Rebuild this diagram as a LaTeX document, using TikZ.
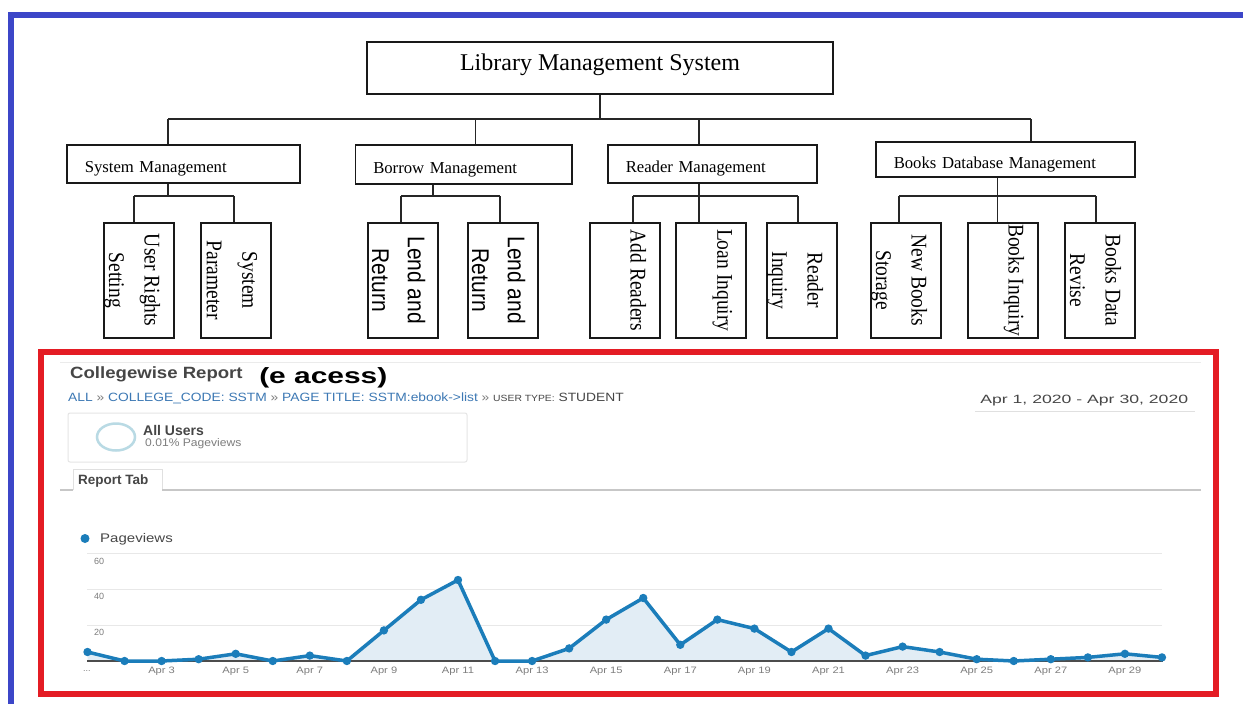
\documentclass[tikz,border=0pt]{standalone}
\usepackage{fontspec}
\setmainfont{Liberation Serif}
\setsansfont{Liberation Sans}

\definecolor{frameblue}{RGB}{60,70,200}
\definecolor{framered}{RGB}{228,28,36}
\definecolor{crumb}{RGB}{60,120,180}
\definecolor{gaBlue}{RGB}{27,125,186}
\definecolor{gaFill}{RGB}{226,237,245}
\definecolor{gaText}{RGB}{70,70,70}
\definecolor{gaSoft}{RGB}{125,125,125}
\definecolor{ringblue}{RGB}{185,218,228}

\begin{document}
\begin{tikzpicture}[x=1pt,y=-1pt,
  treebox/.style={draw=black!90, line width=1.5pt, inner sep=0pt},
  link/.style={draw=black!85, line width=1.4pt},
  rootbox/.style={treebox, minimum width=466pt, minimum height=52pt,
    font=\fontsize{24}{28}\selectfont, text height=16.5pt, text depth=12.5pt},
  midbox/.style={treebox, anchor=north west, align=left, inner xsep=18pt,
    font=\fontsize{16.7}{20}\selectfont, text height=18pt, text depth=0pt},
  leafbox/.style={treebox, anchor=north west, minimum width=70pt, minimum height=115pt},
  leaftext/.style={rotate=-90, yscale=1.15, anchor=north, align=center, inner sep=0pt,
    font=\fontsize{19.5}{31}\selectfont},
  leafsans/.style={leaftext, font=\sffamily\fontsize{21}{31}\selectfont},
  gatext/.style={anchor=base west, inner sep=0pt, font=\sffamily},
  axislab/.style={anchor=base, inner sep=0pt, text=gaSoft,
    font=\sffamily\fontsize{9.3}{11}\selectfont, xscale=1.2},
]
\useasboundingbox (0,0) rectangle (1243,704);
\fill[white] (0,0) rectangle (1243,704);

% outer frame
\draw[frameblue, line width=6pt] (11,710) -- (11,14.5) -- (1250,14.5);

% ---------------- tree ----------------
\node[rootbox] (root) at (600,68) {Library Management System};

\node[midbox, text width=197pt, minimum height=38pt]   (sys) at (66,144)    {System Management};
\node[midbox, text width=180.5pt, minimum height=39pt] (bor) at (354.5,144) {Borrow Management};
\node[midbox, text width=173.4pt, minimum height=38pt] (rea) at (607,144)   {Reader Management};
\node[midbox, text width=223pt, minimum height=35pt]   (bdm) at (875,141)   {Books Database Management};

\node[leafbox] (urs) at (103,222) {};
\node[leafbox] (spm) at (200,222) {};
\node[leafbox] (lr1) at (367,222) {};
\node[leafbox] (lr2) at (467,222) {};
\node[leafbox] (adr) at (589,222) {};
\node[leafbox] (lni) at (675,222) {};
\node[leafbox] (rdi) at (766,222) {};
\node[leafbox] (nbs) at (870,222) {};
\node[leafbox] (bki) at (967,222) {};
\node[leafbox] (bdr) at (1064,222) {};

\node[leaftext] (urs-t) at ([xshift=-14pt]urs.east) {User Rights\\Setting};
\node[leaftext] (spm-t) at ([xshift=-14pt]spm.east) {System\\Parameter};
\node[leafsans] (lr1-t) at ([xshift=-13pt]lr1.east) {Lend and\\Return};
\node[leafsans] (lr2-t) at ([xshift=-13pt]lr2.east) {Lend and\\Return};
\node[leaftext] (adr-t) at ([xshift=-14pt]adr.east) {Add Readers};
\node[leaftext] (lni-t) at ([xshift=-14pt]lni.east) {Loan Inquiry};
\node[leaftext] (rdi-t) at ([xshift=-14pt]rdi.east) {Reader\\Inquiry};
\node[leaftext] (nbs-t) at ([xshift=-14pt]nbs.east) {New Books\\Storage};
\node[leaftext] (bki-t) at ([xshift=-14pt]bki.east) {Books Inquiry};
\node[leaftext] (bdr-t) at ([xshift=-14pt]bdr.east) {Books Data\\Revise};

% top level bus
\coordinate (t0) at (600,119);
\coordinate (t1) at (168,119);
\coordinate (t2) at (475.5,119);
\coordinate (t3) at (699,119);
\coordinate (t4) at (1031,119);
\draw[link] (root.south) -- (t0);
\draw[link] (t1) -- (t4);
\draw[link] (t1) -- (t1 |- sys.north);
\draw[link] (t2) -- (t2 |- bor.north);
\draw[link] (t3) -- (t3 |- rea.north);
\draw[link] (t4) -- (t4 |- bdm.north);

% System Management branch
\coordinate (s0) at (168,196);
\coordinate (s1) at (134,196);
\coordinate (s2) at (234,196);
\draw[link] (s0 |- sys.south) -- (s0);
\draw[link] (s1) -- (s2);
\draw[link] (s1) -- (s1 |- urs.north);
\draw[link] (s2) -- (s2 |- spm.north);

% Borrow Management branch
\coordinate (b0) at (433,196);
\coordinate (b1) at (401,196);
\coordinate (b2) at (500,196);
\draw[link] (b0 |- bor.south) -- (b0);
\draw[link] (b1) -- (b2);
\draw[link] (b1) -- (b1 |- lr1.north);
\draw[link] (b2) -- (b2 |- lr2.north);

% Reader Management branch
\coordinate (r0) at (699,196);
\coordinate (r1) at (633,196);
\coordinate (r2) at (798,196);
\draw[link] (r0 |- rea.south) -- (r0 |- lni.north);
\draw[link] (r1) -- (r2);
\draw[link] (r1) -- (r1 |- adr.north);
\draw[link] (r2) -- (r2 |- rdi.north);

% Books Database Management branch
\coordinate (d0) at (997.5,196);
\coordinate (d1) at (899,196);
\coordinate (d2) at (1096,196);
\draw[link] (d0 |- bdm.south) -- (d0 |- bki.north);
\draw[link] (d1) -- (d2);
\draw[link] (d1) -- (d1 |- nbs.north);
\draw[link] (d2) -- (d2 |- bdr.north);

% ---------------- report panel ----------------
\draw[black!8, line width=1pt] (60,362) -- (1201,362);

\node[gatext, text=gaText, font=\sffamily\bfseries\fontsize{16.3}{19}\selectfont, xscale=1.14]
  (title) at (70,378) {Collegewise Report};
\node[gatext, text=black, font=\sffamily\bfseries\fontsize{22}{26}\selectfont, xscale=1.36]
  (tag) at (259,383) {(e acess)};

\node[gatext, font=\sffamily\fontsize{12}{14}\selectfont, xscale=1.15] (crumbs) at (68,401)
  {\textcolor{crumb}{ALL} \textcolor{gaSoft}{»} \textcolor{crumb}{COLLEGE\_CODE: SSTM}
   \textcolor{gaSoft}{»} \textcolor{crumb}{PAGE TITLE: SSTM:ebook->list}
   \textcolor{gaSoft}{»} {\fontsize{9}{10}\selectfont\textcolor{gaText}{USER TYPE:}}
   \textcolor{gaText}{STUDENT}};

\node[gatext, text=gaText, font=\sffamily\fontsize{12}{14}\selectfont, xscale=1.47]
  (dates) at (980,403) {Apr 1, 2020 - Apr 30, 2020};
\draw[black!12, line width=1pt] (975,411) -- (1195,411);

% segment card
\draw[black!10, line width=1pt, rounded corners=2pt] (68,413) rectangle (467,462);
\draw[ringblue, line width=2.5pt] (116,437) ellipse [x radius=19, y radius=13.5];
\node[gatext, text=gaText, font=\sffamily\bfseries\fontsize{14}{16}\selectfont]
  (users) at (143,435) {All Users};
\node[gatext, text=gaSoft, font=\sffamily\fontsize{11}{13}\selectfont, xscale=1.1]
  (share) at (145,446) {0.01\% Pageviews};

% tab strip
\draw[black!12, line width=1pt] (73,490) -- (73,469) -- (162,469) -- (162,490);
\draw[black!22, line width=1.5pt] (60,490) -- (73,490);
\draw[black!22, line width=1.5pt] (162,490) -- (1201,490);
\node[gatext, text=gaText, font=\sffamily\bfseries\fontsize{13.5}{16}\selectfont]
  (tab) at (78,484) {Report Tab};

% chart legend
\fill[gaBlue] (85,538.5) circle (4.5);
\node[gatext, text=gaText, font=\sffamily\fontsize{12.5}{15}\selectfont, xscale=1.2]
  (legend) at (100,542) {Pageviews};

% grid
\foreach \gy in {553,589,625}
  \draw[black!9, line width=1pt] (87,\gy) -- (1162,\gy);
\node[gatext, text=gaSoft, font=\sffamily\fontsize{9}{11}\selectfont] (y60) at (94,564) {60};
\node[gatext, text=gaSoft, font=\sffamily\fontsize{9}{11}\selectfont] (y40) at (94,599.5) {40};
\node[gatext, text=gaSoft, font=\sffamily\fontsize{9}{11}\selectfont] (y20) at (94,635) {20};

\def\pvlist{5,0,0,1,4,0,3,0,17,34,45,0,0,7,23,35,9,23,18,5,18,3,8,5,1,0,1,2,4,2}

% area and line
\fill[gaFill] (87.5,661)
  \foreach \v [count=\i from 0] in \pvlist { -- ({87.5+37.05*\i},{661-1.8*\v}) }
  -- (1162,661) -- cycle;
\draw[black!70, line width=1.3pt] (87,661) -- (1163,661);
\draw[gaBlue, line width=3.5pt, line join=round, line cap=round] (87.5,652)
  \foreach \v [count=\i from 1] in {0,0,1,4,0,3,0,17,34,45,0,0,7,23,35,9,23,18,5,18,3,8,5,1,0,1,2,4,2}
  { -- ({87.5+37.05*\i},{661-1.8*\v}) };
\foreach \v [count=\i from 0] in \pvlist
  \fill[gaBlue] ({87.5+37.05*\i},{661-1.8*\v}) circle (4.2);

% date axis
\node[gatext, text=gaSoft, font=\sffamily\fontsize{9}{11}\selectfont] (xdots) at (83,671) {...};
\foreach \d in {3,5,...,29}
  \node[axislab] (x\d) at ({87.5+37.05*(\d-1)},673) {Apr \d};

% report frame
\draw[framered, line width=6pt] (41,352) rectangle (1216,694);
\end{tikzpicture}
\end{document}
